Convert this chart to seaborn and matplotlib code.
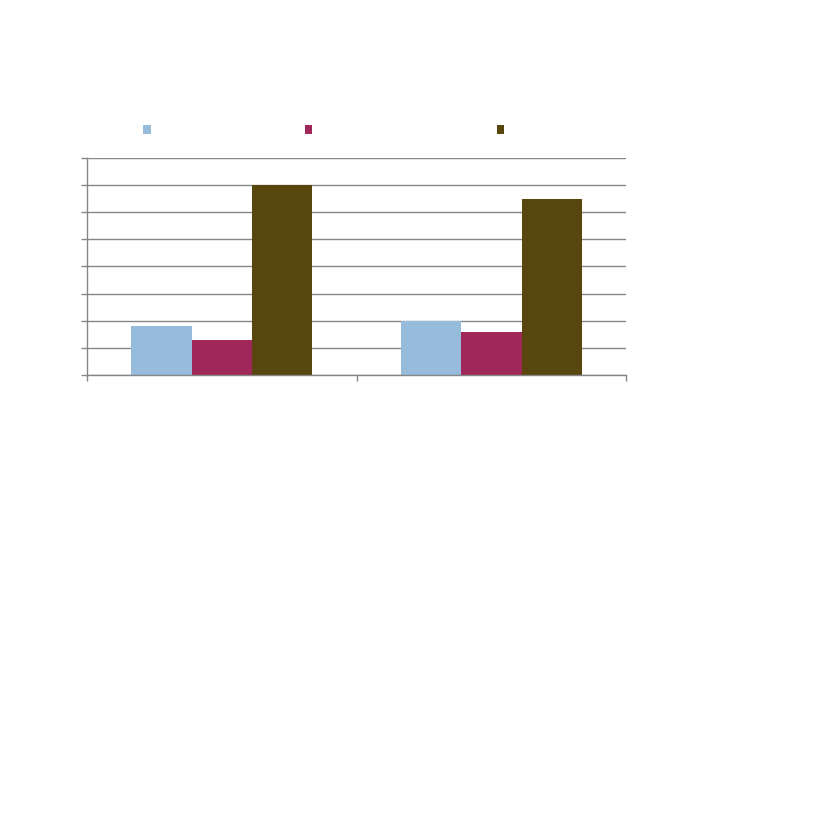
import pandas as pd
import matplotlib
import matplotlib.pyplot as plt
import seaborn as sns
from matplotlib.patches import Patch

matplotlib.use('Agg')

# Data (labels are blank in the reference)
categories = ['Group 1', 'Group 2']
series = ['Series 1', 'Series 2', 'Series 3']
series1 = [1.8, 2.0]
series2 = [1.3, 1.6]
series3 = [7.0, 6.5]
colors = ['#97BBDB', '#A0275A', '#57460D']

df = pd.DataFrame({
    'category': categories * 3,
    'series': [s for s in series for _ in categories],
    'value': series1 + series2 + series3,
})

sns.set_style("white")
fig = plt.figure(figsize=(8.27, 8.27), dpi=100)
ax = fig.add_axes([0.1052, 0.5466, 0.652, 0.2624])

sns.barplot(data=df, x='category', y='value', hue='series', palette=colors,
            width=0.67, saturation=1, edgecolor='none', legend=False, ax=ax)

grid_c = '#868686'
ax.set_ylim(0, 8)
ax.set_yticks(range(0, 9))
ax.set_yticklabels([''] * 9)
ax.set_xlim(-0.5, 1.5)
ax.set_xticks([-0.5, 0.5, 1.5])
ax.set_xticklabels(['', '', ''])
ax.set_xlabel('')
ax.set_ylabel('')
ax.yaxis.grid(True, color=grid_c, linewidth=1)
ax.set_axisbelow(True)
ax.tick_params(axis='both', direction='out', length=4, width=1, color=grid_c,
               left=True, bottom=True)
for side in ['top', 'right']:
    ax.spines[side].set_visible(False)
for side in ['left', 'bottom']:
    ax.spines[side].set_color(grid_c)
    ax.spines[side].set_linewidth(1)

# Legend: one square marker per series, labels blank
legend_x = [0.178, 0.373, 0.605]
for name, c, lx in zip(series, colors, legend_x):
    leg = fig.legend(handles=[Patch(facecolor=c, edgecolor='none')], labels=[''],
                     loc='center', bbox_to_anchor=(lx, 0.8425), frameon=False,
                     handlelength=0.55, handleheight=0.55, handletextpad=0,
                     borderpad=0, fontsize=10)
    fig.add_artist(leg)

fig.savefig('out.png', dpi=100)
